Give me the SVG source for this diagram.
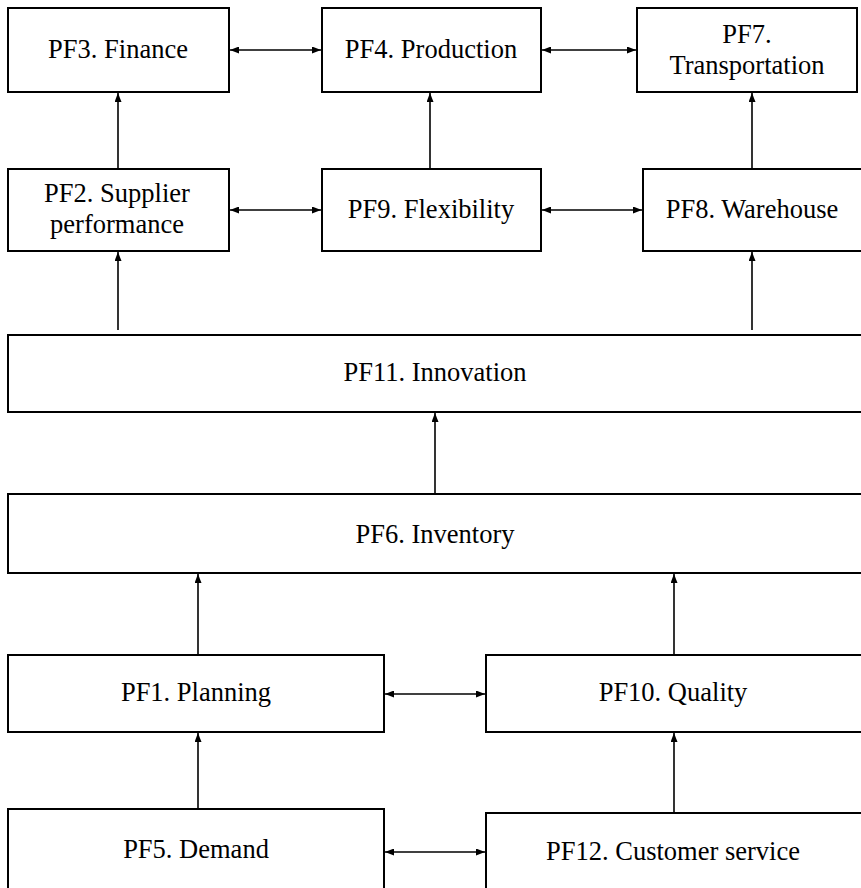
<svg xmlns="http://www.w3.org/2000/svg" width="861" height="888" viewBox="0 0 861 888">
  <style>
    .box { fill: #ffffff; stroke: #000000; stroke-width: 2; }
    .lbl { font-size: 26.5px; fill: #000000; text-anchor: middle; }
    .edge { stroke: #000000; stroke-width: 1.6; fill: none; marker-end: url(#head); }
    .both { marker-start: url(#tail); }
  </style>
  <defs>
    <marker id="head" markerUnits="userSpaceOnUse" markerWidth="9" markerHeight="7" refX="9" refY="3.5" orient="auto">
      <path d="M0,0 L9,3.5 L0,7 z" fill="#000000"/>
    </marker>
    <marker id="tail" markerUnits="userSpaceOnUse" markerWidth="9" markerHeight="7" refX="0" refY="3.5" orient="auto">
      <path d="M9,0 L0,3.5 L9,7 z" fill="#000000"/>
    </marker>
  </defs>
  <rect width="861" height="888" fill="#ffffff"/>

  <g id="connectors">
    <!-- two-way links between neighbours -->
    <line class="edge both" x1="230" y1="50" x2="321" y2="50"/>
    <line class="edge both" x1="542" y1="50" x2="636" y2="50"/>
    <line class="edge both" x1="230" y1="210" x2="321" y2="210"/>
    <line class="edge both" x1="542" y1="210" x2="642" y2="210"/>
    <line class="edge both" x1="385" y1="694" x2="485" y2="694"/>
    <line class="edge both" x1="385" y1="852" x2="485" y2="852"/>
    <!-- upward links -->
    <line class="edge" x1="118" y1="169" x2="118" y2="93"/>
    <line class="edge" x1="430" y1="169" x2="430" y2="93"/>
    <line class="edge" x1="752" y1="169" x2="752" y2="93"/>
    <line class="edge" x1="118" y1="330" x2="118" y2="252"/>
    <line class="edge" x1="752" y1="330" x2="752" y2="252"/>
    <line class="edge" x1="435" y1="494" x2="435" y2="413"/>
    <line class="edge" x1="198" y1="655" x2="198" y2="574"/>
    <line class="edge" x1="674" y1="655" x2="674" y2="574"/>
    <line class="edge" x1="198" y1="809" x2="198" y2="733"/>
    <line class="edge" x1="674" y1="813" x2="674" y2="733"/>
  </g>

  <g font-family="Liberation Serif">
  <g id="pf3">
    <rect class="box" x="8" y="8" width="221" height="84"/>
    <text class="lbl" x="118" y="58">PF3. Finance</text>
  </g>
  <g id="pf4">
    <rect class="box" x="322" y="8" width="219" height="84"/>
    <text class="lbl" x="431" y="58">PF4. Production</text>
  </g>
  <g id="pf7">
    <rect class="box" x="637" y="8" width="220" height="84"/>
    <text class="lbl" x="747" y="43">PF7.</text>
    <text class="lbl" x="747" y="74">Transportation</text>
  </g>
  <g id="pf2">
    <rect class="box" x="8" y="169" width="221" height="82"/>
    <text class="lbl" x="117" y="202">PF2. Supplier</text>
    <text class="lbl" x="117" y="233">performance</text>
  </g>
  <g id="pf9">
    <rect class="box" x="322" y="169" width="219" height="82"/>
    <text class="lbl" x="431" y="218">PF9. Flexibility</text>
  </g>
  <g id="pf8">
    <rect class="box" x="643" y="169" width="222" height="82"/>
    <text class="lbl" x="752" y="218">PF8. Warehouse</text>
  </g>
  <g id="pf11">
    <rect class="box" x="8" y="335" width="858" height="77"/>
    <text class="lbl" x="435" y="381">PF11. Innovation</text>
  </g>
  <g id="pf6">
    <rect class="box" x="8" y="494" width="858" height="79"/>
    <text class="lbl" x="435" y="543">PF6. Inventory</text>
  </g>
  <g id="pf1">
    <rect class="box" x="8" y="655" width="376" height="77"/>
    <text class="lbl" x="196" y="701">PF1. Planning</text>
  </g>
  <g id="pf10">
    <rect class="box" x="486" y="655" width="380" height="77"/>
    <text class="lbl" x="673" y="701">PF10. Quality</text>
  </g>
  <g id="pf5">
    <rect class="box" x="8" y="809" width="376" height="90"/>
    <text class="lbl" x="196" y="858">PF5. Demand</text>
  </g>
  <g id="pf12">
    <rect class="box" x="486" y="813" width="380" height="86"/>
    <text class="lbl" x="673" y="860">PF12. Customer service</text>
  </g>
  </g>
</svg>
